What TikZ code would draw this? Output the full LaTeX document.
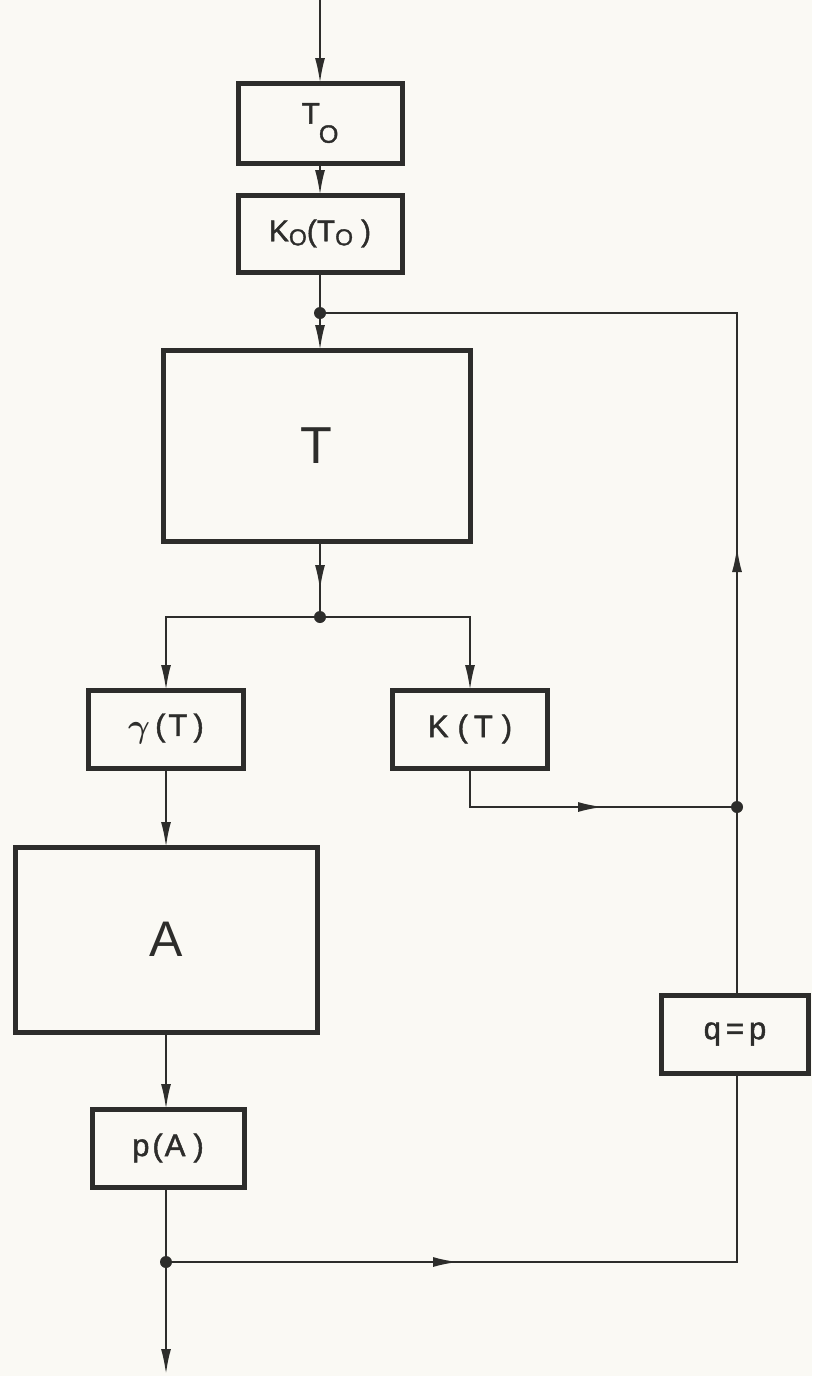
\documentclass[tikz,border=0pt]{standalone}
\usepackage{amsmath}
\usepackage{fontspec}
\setmainfont{Liberation Sans}
\newfontfamily\letfont{Liberation Sans}[FakeBold=1.5]
\usetikzlibrary{arrows.meta,decorations.markings}
\definecolor{paper}{RGB}{250,249,244}
\definecolor{ink}{RGB}{45,45,43}
\newcommand{\lowO}[2]{\raisebox{#1}{\fontsize{#2}{#2}\selectfont O}}
\newcommand{\gp}[1]{\hspace{#1pt}}
\begin{document}
\begin{tikzpicture}[x=1pt,y=-1pt,
  box/.style={draw=ink, line width=5pt, fill=paper, inner sep=0pt, outer sep=0pt,
              text=ink, font=\letfont\fontsize{31}{36}\selectfont},
  bigbox/.style={box, font=\rmfamily\fontsize{52}{60}\selectfont},
  wire/.style={draw=ink, line width=2pt},
  tip/.style={-{Latex[length=25pt,width=10pt]}},
  dot/.style={circle, fill=ink, inner sep=0pt, minimum size=12pt},
  midarrow/.style={postaction={decorate},
     decoration={markings, mark=at position #1 with {\arrow{Latex[length=25pt,width=10pt]}}}}
]
\fill[paper] (0,0) rectangle (812,1376);
\useasboundingbox (0,0) rectangle (812,1376);

% boxes
\node[box, minimum width=164pt, minimum height=80pt] (t0) at (320,123)
  {\fontsize{30}{32}\selectfont T\kern-1pt\lowO{-19pt}{25pt}};
\node[box, minimum width=164pt, minimum height=77pt] (k0) at (320,233.5)
  {\fontsize{30}{34}\selectfont K\lowO{-4pt}{23pt}(T\lowO{-4pt}{23pt}\kern8pt)};
\node[bigbox, minimum width=307pt, minimum height=191pt] (T) at (316.5,445.5) {T};
\node[box, minimum width=155pt, minimum height=78pt] (g) at (166,729)
  {\raisebox{-2pt}{\scalebox{1.35}{$\boldsymbol{\gamma}$}}\gp5(\gp3T\gp6)};
\node[box, minimum width=155pt, minimum height=78pt] (k) at (470,729) {K\gp9(\gp6T\gp9)};
\node[bigbox, minimum width=302pt, minimum height=185pt, font=\rmfamily\fontsize{50}{60}\selectfont] (a) at (166,939.5) {A};
\node[box, minimum width=152pt, minimum height=78pt] (pa) at (168,1148) {p\gp3(\gp2A\gp8)};
\node[box, minimum width=147pt, minimum height=78pt] (q) at (735,1034) {q\gp5=\gp5p};

% junctions
\node[dot] (d1) at (320,313) {};
\node[dot] (d2) at (320,617) {};
\node[dot] (d3) at (737,807) {};
\node[dot] (d4) at (166,1262) {};
\coordinate (top) at (320,0);
\coordinate (bot) at (166,1374);
\coordinate (c1) at (737,313);

% connectors
\draw[wire,tip] (top) -- (t0.north);
\draw[wire,tip] (t0.south) -- (k0.north);
\draw[wire] (k0.south) -- (d1.center);
\draw[wire,tip] (d1.center) -- (d1 |- T.north);
\draw[wire,midarrow=49pt] (d2 |- T.south) -- (d2.center);
\draw[wire,tip] (d2.center) -| (g.north);
\draw[wire,tip] (d2.center) -| (k.north);
\draw[wire,tip] (g.south) -- (a.north);
\draw[wire,midarrow=172pt] (k.south) -- (k.south |- d3) -- (d3.center);
\draw[wire,tip] (a.south) -- (a.south |- pa.north);
\draw[wire] (d4 |- pa.south) -- (d4.center);
\draw[wire,tip] (d4.center) -- (bot);
\draw[wire,midarrow=292pt] (d4.center) -- (d4 -| d3) -- (d3 |- q.south);
\draw[wire] (d3 |- q.north) -- (d3.center);
\draw[wire,midarrow=260pt] (d3.center) -- (c1) -- (d1.center);
\end{tikzpicture}
\end{document}
